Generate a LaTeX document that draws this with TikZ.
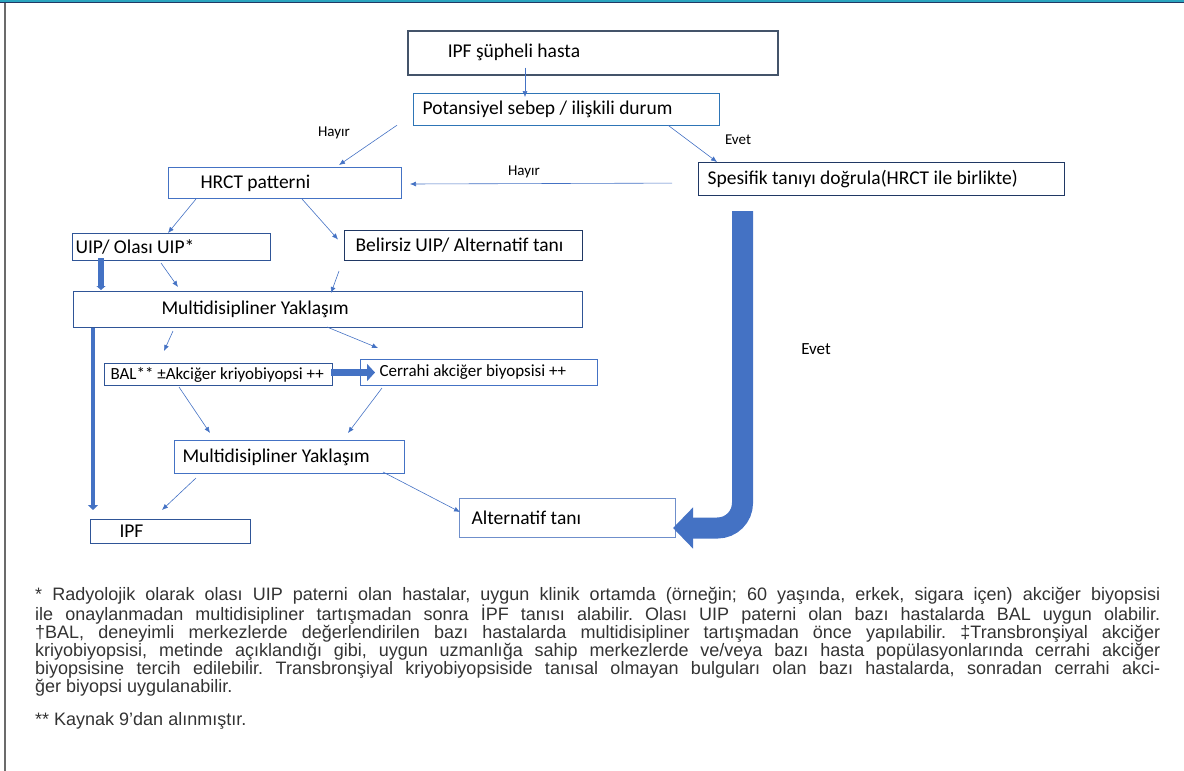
\documentclass[tikz,border=0pt]{standalone}
\usepackage{fontspec}
\setmainfont{Carlito}
\newfontfamily\notefont{Liberation Sans}
\usetikzlibrary{arrows.meta,calc}

\definecolor{okmavi}{HTML}{4472C4}
\definecolor{arduvaz}{HTML}{44546A}
\definecolor{parlakmavi}{HTML}{2E75B6}
\definecolor{koyumavi}{HTML}{2F5597}
\definecolor{lacivert}{HTML}{203864}
\definecolor{acikmavi}{HTML}{6F8FCB}
\definecolor{ustcizgi}{HTML}{2AA5BF}
\definecolor{cercevegri}{HTML}{6B6B6B}
\definecolor{notgri}{HTML}{333333}

\newcommand{\satir}[1]{\makebox[1125pt][s]{#1}}

\tikzset{
  kutu/.style={draw=okmavi, line width=1pt, rectangle, anchor=north west,
    inner ysep=0pt, font=\fontsize{19.5}{22}\selectfont},
  kucukkutu/.style={kutu, font=\fontsize{17}{20}\selectfont},
  ok/.style={draw=okmavi, line width=0.6pt, -{Latex[length=6pt,width=5pt]}},
  kalinok/.style={draw=okmavi, line width=5pt, -{Triangle[length=5pt,width=10pt]}},
  buyukok/.style={draw=okmavi, line width=21pt, rounded corners=25pt,
    -{Triangle[length=20pt,width=40pt]}},
  etiket/.style={font=\fontsize{15}{17}\selectfont},
  dipnot/.style={anchor=north west, inner sep=0pt, align=left,
    text=notgri, font=\notefont\fontsize{18}{18}\selectfont\frenchspacing},
}

\begin{document}
\begin{tikzpicture}[x=1pt, y=-1pt]
  \useasboundingbox (0,0) rectangle (1184,771);

  % Çerçeve
  \fill[ustcizgi] (0,0) rectangle (1184,2.5);
  \draw[lacivert, line width=0.8pt] (0,2.8) -- (1184,2.8);
  \draw[cercevegri, line width=1.6pt] (5,2.8) -- (5,771);

  % Kutular
  \node[kutu, draw=arduvaz, line width=1.5pt, minimum width=370pt, minimum height=44pt, inner xsep=40pt]
    (suphe) at (407,30) {\makebox[290pt][l]{IPF şüpheli hasta}};
  \node[kutu, draw=parlakmavi, line width=1.2pt, minimum width=306pt, minimum height=32pt, inner xsep=9pt]
    (sebep) at (413,93) {\makebox[288pt][l]{Potansiyel sebep / ilişkili durum}};
  \node[kutu, minimum width=233pt, minimum height=31pt, inner xsep=32pt]
    (hrct) at (168,167) {\makebox[169pt][l]{HRCT patterni}};
  \node[kutu, draw=lacivert, line width=1.2pt, minimum width=366pt, minimum height=33pt, inner xsep=9pt]
    (dogrula) at (698,162) {\makebox[348pt][l]{Spesifik tanıyı doğrula(HRCT ile birlikte)}};
  \node[kutu, draw=koyumavi, minimum width=198pt, minimum height=27pt, inner xsep=3pt]
    (uip) at (72,233) {\makebox[192pt][l]{UIP/ Olası UIP*}};
  \node[kutu, draw=lacivert, minimum width=238pt, minimum height=30pt, inner xsep=11pt]
    (belirsiz) at (344,230) {\makebox[216pt][l]{Belirsiz UIP/ Alternatif tanı}};
  \node[kutu, draw=koyumavi, minimum width=509pt, minimum height=36pt, inner xsep=88pt]
    (multi1) at (73,291) {\makebox[333pt][l]{Multidisipliner Yaklaşım}};
  \node[kucukkutu, draw=koyumavi, minimum width=228pt, minimum height=22pt, inner xsep=6pt]
    (bal) at (104,363) {\makebox[216pt][l]{BAL** ±Akciğer kriyobiyopsi ++}};
  \node[kucukkutu, minimum width=237pt, minimum height=26pt, inner xsep=19pt]
    (cerrahi) at (360,359) {\makebox[199pt][l]{\raisebox{-2pt}{Cerrahi akciğer biyopsisi ++}}};
  \node[kutu, minimum width=230pt, minimum height=33pt, inner xsep=8pt]
    (multi2) at (174,440) {\makebox[214pt][l]{Multidisipliner Yaklaşım}};
  \node[kutu, draw=koyumavi, minimum width=160pt, minimum height=24pt, inner xsep=29pt]
    (ipf) at (90,519) {\makebox[102pt][l]{IPF}};
  \node[kutu, draw=acikmavi, minimum width=216pt, minimum height=39pt, inner xsep=12pt]
    (alternatif) at (459,498) {\makebox[192pt][l]{\raisebox{-2pt}{Alternatif tanı}}};

  % Etiketler
  \node[etiket] (hayir1) at (334,133) {Hayır};
  \node[etiket] (evet1) at (738,140) {Evet};
  \node[etiket] (hayir2) at (524,172) {Hayır};
  \node[etiket, font=\fontsize{17}{20}\selectfont] (evet2) at (816,349) {Evet};

  % Oklar
  \draw[ok] ($(suphe.south west)+(118,-8)$) -- ($(sebep.north west)+(112,4)$);
  \draw[ok] ($(sebep.south west)+(-16,-1)$) -- ($(hrct.north west)+(171,-2)$);
  \draw[ok] ($(sebep.south west)+(255,-1)$) -- ($(dogrula.north west)+(19,0)$);
  \draw[ok] ($(dogrula.west)+(-26,4)$) -- ($(hrct.east)+(8,1)$);
  \draw[ok] ($(hrct.south west)+(28,0)$) -- ($(uip.north west)+(96,0)$);
  \draw[ok] ($(hrct.south west)+(134,0)$) -- ($(belirsiz.west)+(-6,-6)$);
  \draw[ok] ($(uip.south west)+(89,2)$) -- ($(multi1.north west)+(105,-4)$);
  \draw[ok] ($(belirsiz.south west)+(-5,10)$) -- ($(multi1.north west)+(258,2)$);
  \draw[ok] ($(multi1.south west)+(100,3)$) -- ($(bal.north west)+(60,-12)$);
  \draw[ok] ($(multi1.south west)+(254,-1)$) -- ($(cerrahi.north west)+(18,-11)$);
  \draw[ok] ($(bal.south west)+(75,1)$) -- ($(multi2.north west)+(36,-7)$);
  \draw[ok] ($(cerrahi.south west)+(22,2)$) -- ($(multi2.north west)+(174,-7)$);
  \draw[ok] ($(multi2.south west)+(22,4)$) -- ($(ipf.north west)+(72,-9)$);
  \draw[ok] ($(multi2.south west)+(209,-2)$) -- ($(alternatif.west)+(1,-6)$);

  % Kalın oklar
  \draw[kalinok, line width=5.5pt, -{Triangle[length=4pt,width=9pt]}]
    ($(uip.south west)+(29,-3)$) -- ($(multi1.north west)+(28,-1)$);
  \draw[kalinok, line width=4.5pt]
    ($(multi1.south west)+(20,0)$) -- ($(ipf.north west)+(3,-9)$);
  \draw[kalinok, line width=7pt, -{Triangle[length=8pt,width=17pt]}]
    ($(bal.east)+(-2,-2)$) -- ($(cerrahi.west)+(15,0)$);
  \coordinate (buyukbas) at ($(dogrula.south west)+(44.5,15)$);
  \coordinate (buyukuc) at ($(alternatif.east)+(-3,10)$);
  \draw[buyukok] (buyukbas) |- (buyukuc);

  % Dipnot
  \node[dipnot] (dipnot) at (35,587) {%
    \satir{* Radyolojik olarak olası UIP paterni olan hastalar, uygun klinik ortamda (örneğin; 60 yaşında, erkek, sigara içen) akciğer biyopsisi}\\
    \satir{ile onaylanmadan multidisipliner tartışmadan sonra İPF tanısı alabilir. Olası UIP paterni olan bazı hastalarda BAL uygun olabilir.}\\
    \satir{†BAL, deneyimli merkezlerde değerlendirilen bazı hastalarda multidisipliner tartışmadan önce yapılabilir. ‡Transbronşiyal akciğer}\\
    \satir{kriyobiyopsisi, metinde açıklandığı gibi, uygun uzmanlığa sahip merkezlerde ve/veya bazı hasta popülasyonlarında cerrahi akciğer}\\
    \satir{biyopsisine tercih edilebilir. Transbronşiyal kriyobiyopsiside tanısal olmayan bulguları olan bazı hastalarda, sonradan cerrahi akci-}\\
    ğer biyopsi uygulanabilir.\\[15pt]
    ** Kaynak 9’dan alınmıştır.};
\end{tikzpicture}
\end{document}
